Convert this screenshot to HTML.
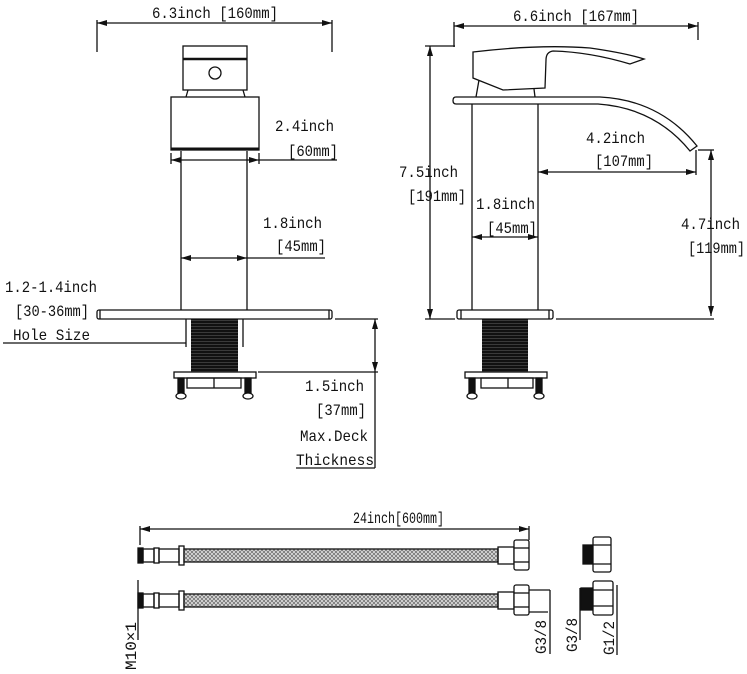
<!DOCTYPE html>
<html><head><meta charset="utf-8"><style>
html,body{margin:0;padding:0;background:#fff;}
svg{display:block;}
text{font-family:"Liberation Mono","DejaVu Sans Mono",monospace;font-size:16px;fill:#111;}
</style></head><body>
<svg width="747" height="674" viewBox="0 0 747 674" xmlns="http://www.w3.org/2000/svg">
<defs>
<marker id="a" viewBox="0 0 10 6" refX="10" refY="3" markerWidth="10" markerHeight="6" orient="auto-start-reverse" markerUnits="userSpaceOnUse"><path d="M0,0L10,3L0,6z" fill="#111"/></marker>
<pattern id="br" width="4" height="4" patternUnits="userSpaceOnUse"><rect width="4" height="4" fill="#ddd"/><path d="M0,4L4,0M0,0L4,4" stroke="#666" stroke-width="0.7"/></pattern>
<pattern id="th" width="4" height="3" patternUnits="userSpaceOnUse"><rect width="4" height="3" fill="#111"/><rect y="2" width="4" height="0.6" fill="#555"/></pattern>
</defs>
<g stroke="#111" stroke-width="1.3" fill="none">
<line x1="97" y1="20" x2="97" y2="52"/><line x1="332" y1="20" x2="332" y2="52"/>
<line x1="97" y1="23" x2="332" y2="23" marker-start="url(#a)" marker-end="url(#a)"/>
<rect x="183" y="46" width="64" height="44" fill="#fff"/>
<line x1="183" y1="59" x2="247" y2="59" stroke-width="2.5"/>
<circle cx="215" cy="73" r="6"/>
<path d="M188,90L186,97M243,90L245,97"/>
<rect x="171" y="97" width="88" height="53" fill="#fff"/>
<line x1="171" y1="149" x2="259" y2="149" stroke-width="3"/>
<line x1="171" y1="153" x2="171" y2="164"/><line x1="259" y1="153" x2="259" y2="164"/>
<line x1="171" y1="160" x2="259" y2="160" marker-start="url(#a)" marker-end="url(#a)"/>
<line x1="259" y1="160" x2="337" y2="160"/>
<line x1="181" y1="151" x2="181" y2="310"/><line x1="247" y1="151" x2="247" y2="310"/>
<line x1="181" y1="258" x2="247" y2="258" marker-start="url(#a)" marker-end="url(#a)"/>
<line x1="247" y1="258" x2="325" y2="258"/>
<rect x="97" y="310" width="235" height="9" rx="2" fill="#fff"/>
<line x1="100" y1="310" x2="100" y2="319"/><line x1="329" y1="310" x2="329" y2="319"/>
<rect x="191" y="319" width="47" height="53" fill="url(#th)" stroke="none"/>
<line x1="186" y1="319" x2="186" y2="347"/><line x1="243" y1="319" x2="243" y2="347"/>
<line x1="3" y1="343" x2="186" y2="343"/>
<rect x="174" y="372" width="82" height="6" fill="#fff"/>
<rect x="187" y="378" width="54" height="10"/><line x1="214" y1="378" x2="214" y2="388"/>
<rect x="178" y="378" width="6" height="16" fill="#111"/><rect x="245" y="378" width="6" height="16" fill="#111"/>
<ellipse cx="181" cy="396" rx="5" ry="3" fill="#fff"/><ellipse cx="248" cy="396" rx="5" ry="3" fill="#fff"/>
<line x1="335" y1="319" x2="378" y2="319"/><line x1="258" y1="372" x2="378" y2="372"/>
<line x1="375" y1="319" x2="375" y2="372" marker-start="url(#a)" marker-end="url(#a)"/>
<line x1="375" y1="372" x2="375" y2="468"/>
<line x1="296" y1="468" x2="375" y2="468"/>

<line x1="454" y1="22" x2="454" y2="47"/><line x1="698" y1="22" x2="698" y2="40"/>
<line x1="454" y1="26" x2="698" y2="26" marker-start="url(#a)" marker-end="url(#a)"/>
<line x1="425" y1="46" x2="455" y2="46"/><line x1="425" y1="319" x2="455" y2="319"/>
<line x1="430" y1="46" x2="430" y2="319" marker-start="url(#a)" marker-end="url(#a)"/>
<path d="M473,52Q540,44 590,48Q625,53 644,59L630,64Q590,52 553,51Q546,52 546,60L545,88L503,90L473,78Z" fill="#fff"/>
<path d="M479,80L476,97M534,89L535,97"/>
<path d="M456,97L600,97Q660,100 697,146L690,151Q655,108 598,104L456,104Q453,104 453,100.5Q453,97 456,97Z" fill="#fff"/>
<line x1="472" y1="104" x2="472" y2="310"/><line x1="538" y1="104" x2="538" y2="310"/>
<line x1="472" y1="237" x2="538" y2="237" marker-start="url(#a)" marker-end="url(#a)"/>
<line x1="538" y1="172" x2="696" y2="172" marker-start="url(#a)" marker-end="url(#a)"/>
<line x1="696" y1="150" x2="696" y2="175"/>
<line x1="698" y1="150" x2="714" y2="150"/>
<line x1="711" y1="150" x2="711" y2="316" marker-start="url(#a)" marker-end="url(#a)"/>
<line x1="556" y1="319" x2="714" y2="319"/>
<rect x="457" y="310" width="96" height="9" rx="2" fill="#fff"/>
<line x1="461" y1="310" x2="461" y2="319"/><line x1="549" y1="310" x2="549" y2="319"/>
<rect x="482" y="319" width="46" height="53" fill="url(#th)" stroke="none"/>
<rect x="465" y="372" width="82" height="6" fill="#fff"/>
<rect x="481" y="378" width="52" height="10"/><line x1="508" y1="378" x2="508" y2="388"/>
<rect x="469" y="378" width="6" height="16" fill="#111"/><rect x="536" y="378" width="6" height="16" fill="#111"/>
<ellipse cx="472" cy="396" rx="5" ry="3" fill="#fff"/><ellipse cx="539" cy="396" rx="5" ry="3" fill="#fff"/>

<line x1="140" y1="526" x2="140" y2="545"/><line x1="529" y1="526" x2="529" y2="540"/>
<line x1="140" y1="529" x2="529" y2="529" marker-start="url(#a)" marker-end="url(#a)"/>
<g id="h1">
<rect x="138" y="548" width="5" height="15" fill="#111"/>
<rect x="143" y="549" width="11" height="13"/><rect x="154" y="548" width="5" height="15"/><rect x="159" y="549" width="20" height="13"/>
<rect x="179" y="546" width="5" height="19"/>
<rect x="184" y="549" width="314" height="13" fill="url(#br)"/>
<rect x="498" y="547" width="16" height="17"/>
<rect x="514" y="540" width="15" height="30" rx="2" fill="#fff"/><line x1="514" y1="548" x2="529" y2="548"/><line x1="514" y1="562" x2="529" y2="562"/>
</g>
<use href="#h1" transform="translate(0,45)"/>
<line x1="529" y1="590" x2="550" y2="590"/><line x1="550" y1="590" x2="550" y2="654"/><line x1="529" y1="612" x2="548" y2="612"/>
<line x1="138" y1="580" x2="138" y2="640"/>
<rect x="583" y="545" width="10" height="19" fill="#111"/>
<rect x="593" y="537" width="18" height="35" rx="2" fill="#fff"/><line x1="593" y1="545" x2="611" y2="545"/><line x1="593" y1="564" x2="611" y2="564"/>
<rect x="581" y="588" width="12" height="22" fill="#111"/>
<rect x="593" y="581" width="20" height="34" rx="2" fill="#fff"/><line x1="593" y1="590" x2="613" y2="590"/><line x1="593" y1="606" x2="613" y2="606"/>
<line x1="580" y1="588" x2="580" y2="640"/><line x1="617" y1="585" x2="617" y2="655"/>
</g>
<g>
<text x="152" y="18" textLength="126" lengthAdjust="spacingAndGlyphs">6.3inch [160mm]</text>
<text x="275" y="131" textLength="59" lengthAdjust="spacingAndGlyphs">2.4inch</text><text x="288" y="156" textLength="50" lengthAdjust="spacingAndGlyphs">[60mm]</text>
<text x="263" y="228" textLength="59" lengthAdjust="spacingAndGlyphs">1.8inch</text><text x="276" y="251" textLength="50" lengthAdjust="spacingAndGlyphs">[45mm]</text>
<text x="5" y="292" textLength="92" lengthAdjust="spacingAndGlyphs">1.2-1.4inch</text><text x="15" y="316" textLength="74" lengthAdjust="spacingAndGlyphs">[30-36mm]</text><text x="13" y="340" textLength="77" lengthAdjust="spacingAndGlyphs">Hole Size</text>
<text x="305" y="391" textLength="59" lengthAdjust="spacingAndGlyphs">1.5inch</text><text x="316" y="415" textLength="50" lengthAdjust="spacingAndGlyphs">[37mm]</text><text x="300" y="441" textLength="68" lengthAdjust="spacingAndGlyphs">Max.Deck</text><text x="296" y="465" textLength="78" lengthAdjust="spacingAndGlyphs">Thickness</text>
<text x="513" y="21" textLength="126" lengthAdjust="spacingAndGlyphs">6.6inch [167mm]</text>
<text x="399" y="177" textLength="59" lengthAdjust="spacingAndGlyphs">7.5inch</text><text x="408" y="201" textLength="58" lengthAdjust="spacingAndGlyphs">[191mm]</text>
<text x="476" y="209" textLength="59" lengthAdjust="spacingAndGlyphs">1.8inch</text><text x="487" y="233" textLength="50" lengthAdjust="spacingAndGlyphs">[45mm]</text>
<text x="586" y="143" textLength="59" lengthAdjust="spacingAndGlyphs">4.2inch</text><text x="595" y="166" textLength="58" lengthAdjust="spacingAndGlyphs">[107mm]</text>
<text x="681" y="229" textLength="59" lengthAdjust="spacingAndGlyphs">4.7inch</text><text x="688" y="253" textLength="57" lengthAdjust="spacingAndGlyphs">[119mm]</text>
<text x="353" y="523" textLength="91" lengthAdjust="spacingAndGlyphs">24inch[600mm]</text>
<text transform="translate(136,670) rotate(-90)" textLength="48" lengthAdjust="spacingAndGlyphs">M10×1</text>
<text transform="translate(546,654) rotate(-90)" textLength="34" lengthAdjust="spacingAndGlyphs">G3/8</text>
<text transform="translate(577,652) rotate(-90)" textLength="34" lengthAdjust="spacingAndGlyphs">G3/8</text>
<text transform="translate(614,655) rotate(-90)" textLength="34" lengthAdjust="spacingAndGlyphs">G1/2</text>
</g>
</svg>
</body></html>
